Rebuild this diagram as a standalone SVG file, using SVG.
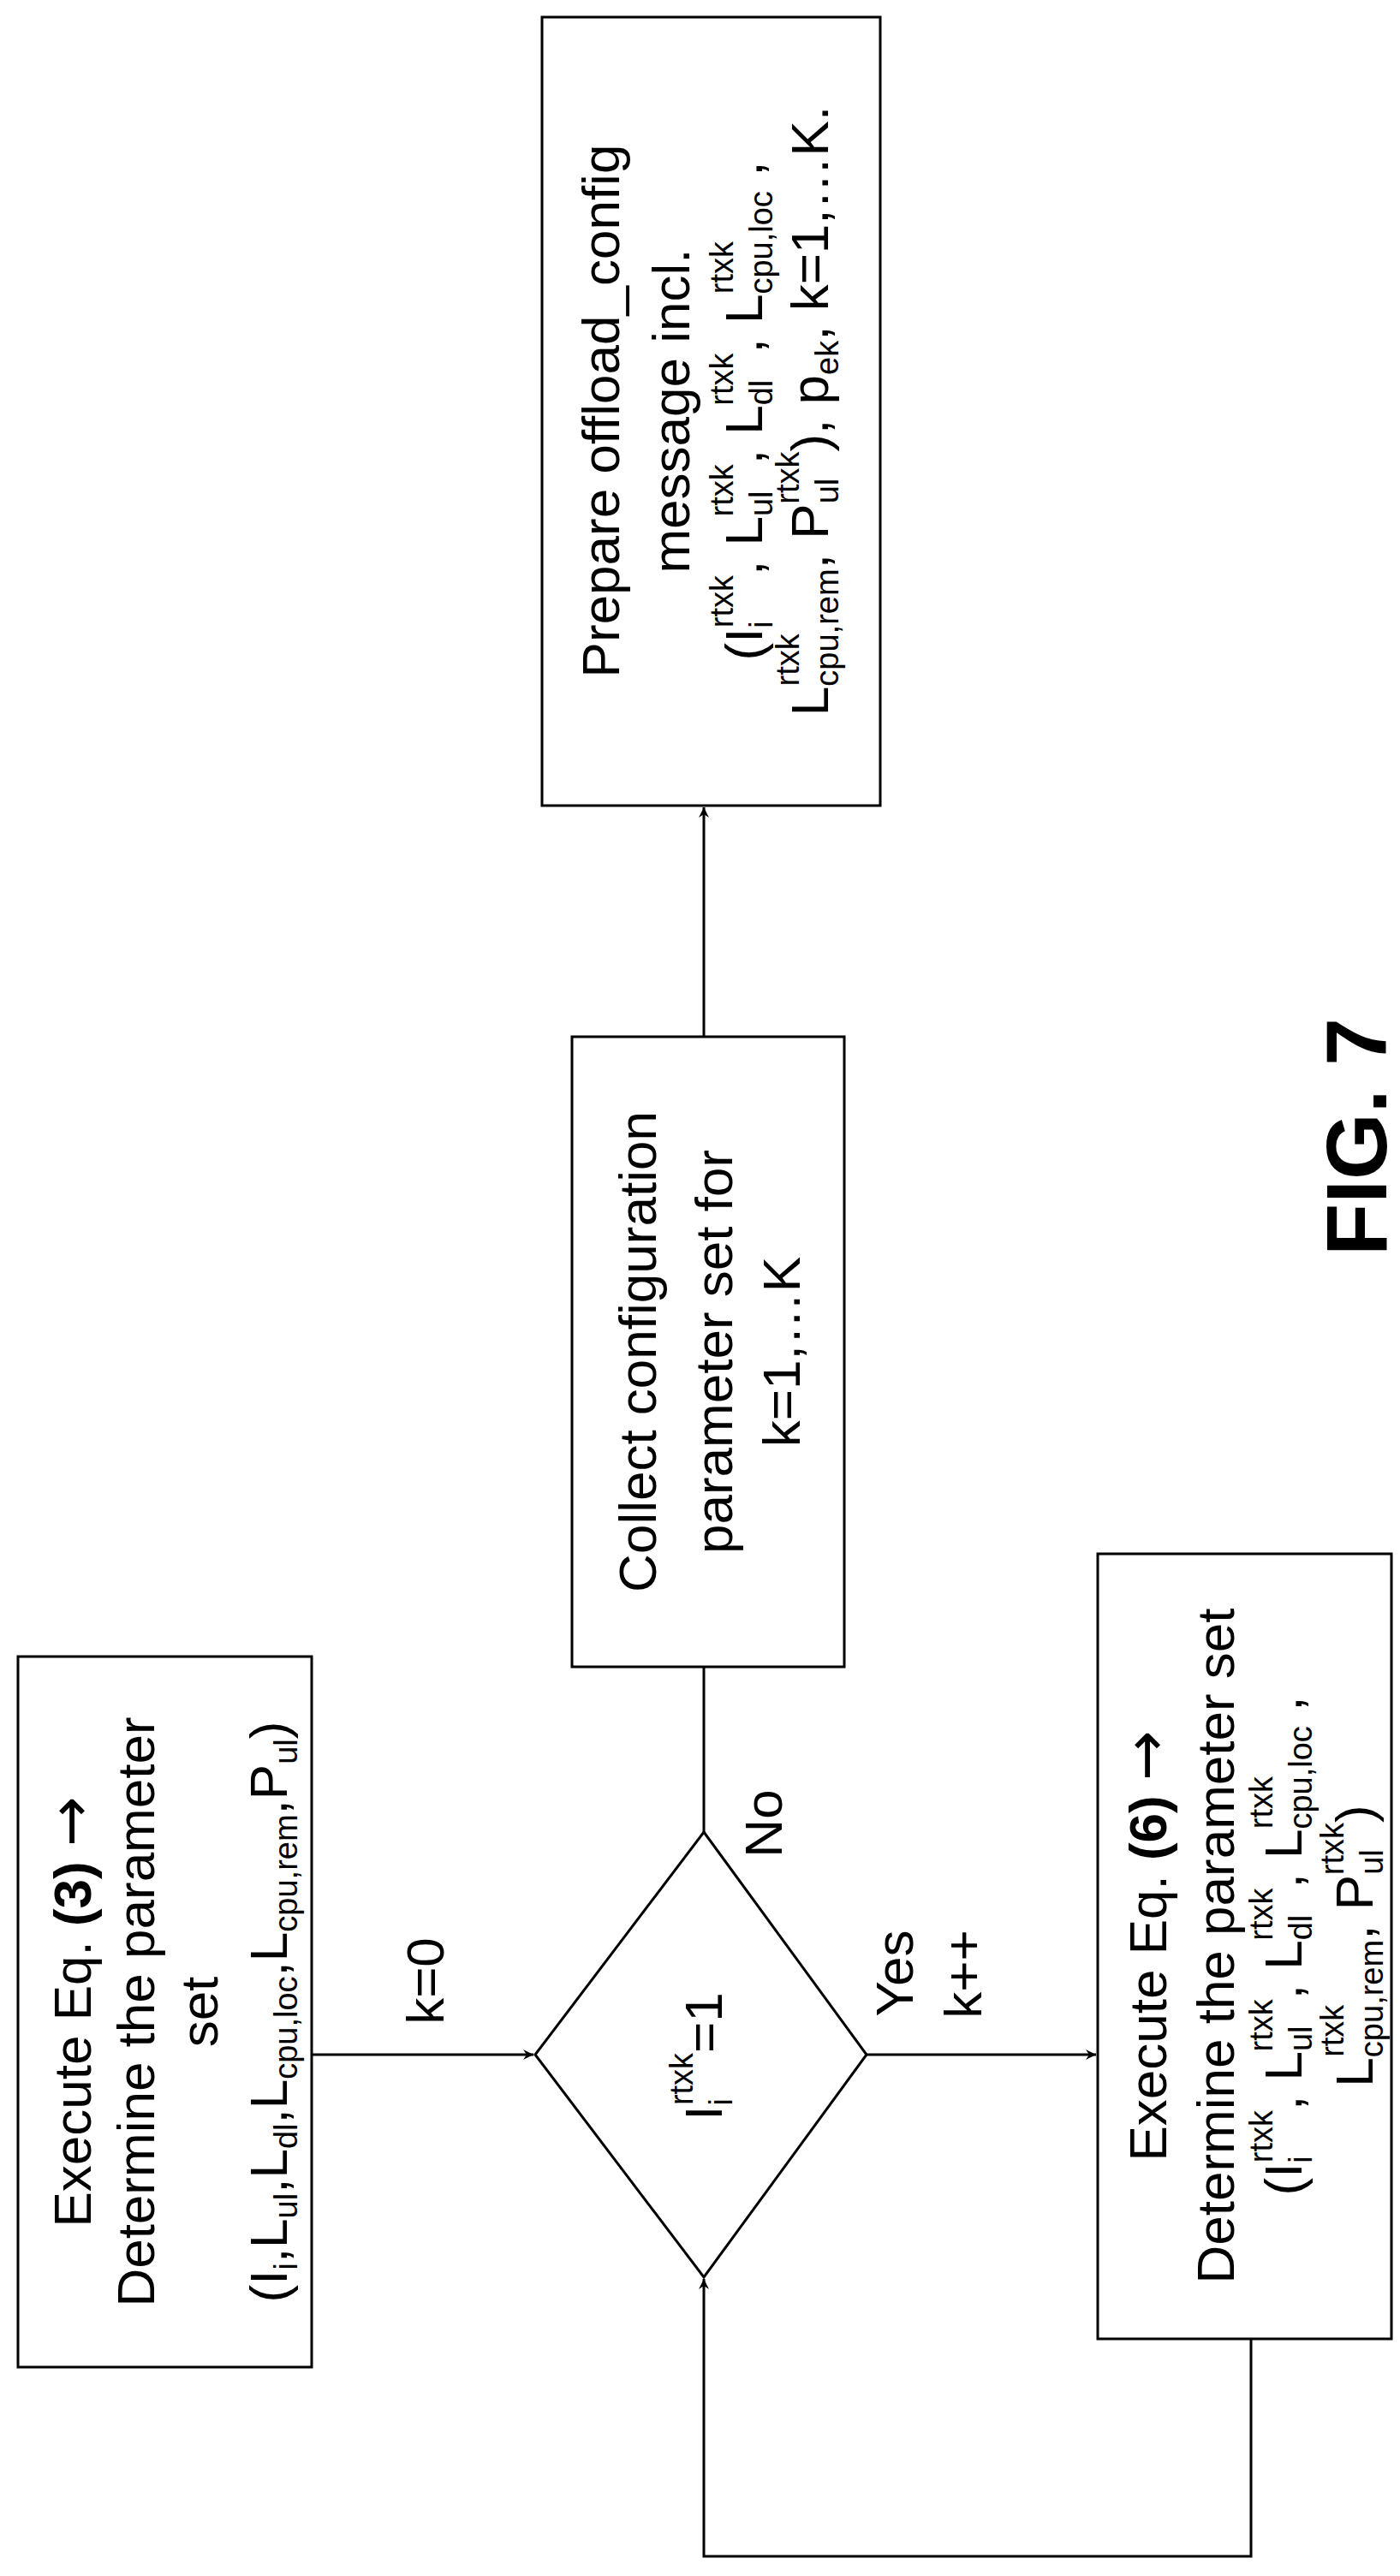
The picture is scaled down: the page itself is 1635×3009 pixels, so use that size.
<svg xmlns="http://www.w3.org/2000/svg" width="1635" height="3009" viewBox="0 0 1635 3009">
<style>
.box{fill:#fff;stroke:#000;stroke-width:3}
.ln{fill:none;stroke:#000;stroke-width:3}
text{font-family:"Liberation Sans",Arial,sans-serif;fill:#000;text-anchor:middle}
.t{font-size:62px}
.s{font-size:38px}
.b{font-weight:bold}
.ar{font-family:"DejaVu Sans",sans-serif;font-size:70px}
.fig{font-size:100px;font-weight:bold}
</style>
<defs>
<marker id="ah" markerWidth="14" markerHeight="14" refX="12" refY="7" orient="auto" markerUnits="userSpaceOnUse">
<path d="M0,1 L12,7 L0,13 L4,7 Z" fill="#000"/>
</marker>
</defs>
<rect width="1635" height="3009" fill="#fff"/>
<g id="connectors">
<path class="ln" d="M822,1211 V943" marker-end="url(#ah)"/>
<path class="ln" d="M822,1947 V2140"/>
<path class="ln" d="M364,2400 H623" marker-end="url(#ah)"/>
<path class="ln" d="M1012,2400 H1280" marker-end="url(#ah)"/>
<path class="ln" d="M1461,2732 V2986 H822 V2662" marker-end="url(#ah)"/>
</g>
<g id="labels">
<g transform="translate(496,2314) rotate(-90)"><text class="t" x="0" y="22">k=0</text></g>
<g transform="translate(891,2130) rotate(-90)"><text class="t" x="0" y="22">No</text></g>
<g transform="translate(1044,2305) rotate(-90)"><text class="t" x="0" y="22">Yes</text></g>
<g transform="translate(1124,2306) rotate(-90)"><text class="t" x="0" y="22">k++</text></g>
</g>
<g id="prepare">
<rect class="box" x="633" y="20" width="395" height="921"/>
<g transform="translate(830,480) rotate(-90)">
<text class="t" x="0" y="-107">Prepare offload_config</text>
<text class="t" x="0" y="-25">message incl.</text>
<text class="t" x="0" y="60">(I<tspan class="s" dy="12">i</tspan><tspan class="s" dx="-8" dy="-46">rtxk</tspan><tspan dy="34">, L</tspan><tspan class="s" dy="12">ul</tspan><tspan class="s" dx="-30" dy="-46">rtxk</tspan><tspan dy="34">, L</tspan><tspan class="s" dy="12">dl</tspan><tspan class="s" dx="-30" dy="-46">rtxk</tspan><tspan dy="34">, L</tspan><tspan class="s" dy="12">cpu,loc</tspan><tspan class="s" dx="-120" dy="-46">rtxk</tspan><tspan dx="59" dy="34"> ,</tspan></text>
<text class="t" x="0" y="137">L<tspan class="s" dy="12">cpu,rem</tspan><tspan class="s" dx="-137" dy="-46">rtxk</tspan><tspan dx="76" dy="34">, P</tspan><tspan class="s" dy="12">ul</tspan><tspan class="s" dx="-30" dy="-46">rtxk</tspan><tspan dy="34">), p</tspan><tspan class="s" dy="12">ek</tspan><tspan dy="-12">, k=1,…K.</tspan></text>
</g>
</g>
<g id="collect">
<rect class="box" x="668" y="1211" width="318" height="736"/>
<g transform="translate(827,1579) rotate(-90)">
<text class="t" x="0" y="-61">Collect configuration</text>
<text class="t" x="0" y="28">parameter set for</text>
<text class="t" x="0" y="107">k=1,…K</text>
</g>
</g>
<g id="exec3">
<rect class="box" x="21" y="1935" width="343" height="830"/>
<g transform="translate(192,2350) rotate(-90)">
<text class="t" x="0" y="-86">Execute Eq. <tspan class="b">(3)</tspan> <tspan class="ar">→</tspan></text>
<text class="t" x="0" y="-12">Determine the parameter</text>
<text class="t" x="0" y="62">set</text>
<text class="t" x="0" y="143">(I<tspan class="s" dy="12">i</tspan><tspan dy="-12">,L</tspan><tspan class="s" dy="12">ul</tspan><tspan dy="-12">,L</tspan><tspan class="s" dy="12">dl</tspan><tspan dy="-12">,L</tspan><tspan class="s" dy="12">cpu,loc</tspan><tspan dy="-12">,L</tspan><tspan class="s" dy="12">cpu,rem</tspan><tspan dy="-12">,P</tspan><tspan class="s" dy="12">ul</tspan><tspan dy="-12">)</tspan></text>
</g>
</g>
<g id="decision">
<path class="box" d="M822,2140 L1012,2400 L822,2660 L625,2400 Z"/>
<g transform="translate(818,2402) rotate(-90)">
<text class="t" x="0" y="25">I<tspan class="s" dy="12">i</tspan><tspan class="s" dx="-8" dy="-46">rtxk</tspan><tspan dy="34">=1</tspan></text>
</g>
</g>
<g id="exec6">
<rect class="box" x="1282" y="1815" width="343" height="917"/>
<g transform="translate(1453,2273) rotate(-90)">
<text class="t" x="0" y="-91">Execute Eq. <tspan class="b">(6)</tspan> <tspan class="ar">→</tspan></text>
<text class="t" x="0" y="-12">Determine the parameter set</text>
<text class="t" x="0" y="67">(I<tspan class="s" dy="12">i</tspan><tspan class="s" dx="-8" dy="-46">rtxk</tspan><tspan dy="34">, L</tspan><tspan class="s" dy="12">ul</tspan><tspan class="s" dx="-30" dy="-46">rtxk</tspan><tspan dy="34">, L</tspan><tspan class="s" dy="12">dl</tspan><tspan class="s" dx="-30" dy="-46">rtxk</tspan><tspan dy="34">, L</tspan><tspan class="s" dy="12">cpu,loc</tspan><tspan class="s" dx="-120" dy="-46">rtxk</tspan><tspan dx="59" dy="34"> ,</tspan></text>
<text class="t" x="0" y="150">L<tspan class="s" dy="12">cpu,rem</tspan><tspan class="s" dx="-137" dy="-46">rtxk</tspan><tspan dx="76" dy="34">, P</tspan><tspan class="s" dy="12">ul</tspan><tspan class="s" dx="-30" dy="-46">rtxk</tspan><tspan dy="34">)</tspan></text>
</g>
</g>
<g id="figlabel" transform="translate(1583,1328) rotate(-90)">
<text class="fig" x="0" y="36">FIG. 7</text>
</g>
</svg>
